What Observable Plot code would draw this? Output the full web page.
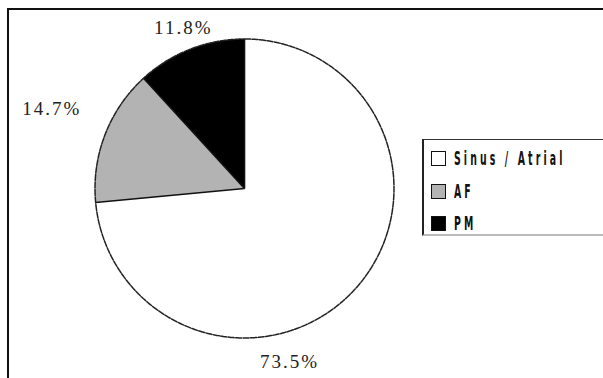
<!DOCTYPE html>
<html><head><meta charset="utf-8">
<script src="https://cdn.jsdelivr.net/npm/d3@7"></script>
<script src="https://cdn.jsdelivr.net/npm/@observablehq/plot@0.6"></script>
<style>
html,body{margin:0;padding:0;background:#fff;overflow:hidden;}
#wrap{position:relative;width:603px;height:378px;overflow:hidden;background:#fff;}
#frame{position:absolute;left:7px;top:8px;width:640px;height:420px;border:2px solid #111;box-sizing:border-box;}
#chart{position:absolute;left:0;top:0;}
#chart svg [aria-label="text"] text{letter-spacing:2px;}
#legend{position:absolute;left:422px;top:139px;width:220px;height:97px;border-left:2px solid #222;border-top:1.5px solid #333;border-bottom:2px solid #bbb;background:#fff;box-sizing:border-box;}
.row{position:absolute;left:7px;height:15px;}
.sw{position:absolute;left:0;top:0;width:13px;height:13px;border:1px solid #111;}
.tx{position:absolute;left:23px;top:-5px;white-space:nowrap;font-family:"DejaVu Sans Condensed","DejaVu Sans",sans-serif;font-stretch:condensed;font-weight:bold;font-size:20px;line-height:24px;letter-spacing:6px;color:#111;transform:scaleX(0.52);transform-origin:left center;}
</style>
</head><body>
<div id="wrap">
  <div id="chart"></div>
  <div id="frame"></div>
  <div id="legend"></div>
</div>
<script>
const categories = ["Sinus / Atrial", "AF", "PM"];
const percents = [73.5, 14.7, 11.8];
const labels = ["73.5%", "14.7%", "11.8%"];

const fills = ["#ffffff", "#b3b3b3", "#000000"];

const total = d3.sum(percents);
let acc = 0;
const slices = categories.map((c, i) => {
  const a0 = acc / total * 2 * Math.PI;
  acc += percents[i];
  const a1 = acc / total * 2 * Math.PI;
  return {cat: c, a0, a1, mid: (a0 + a1) / 2, label: labels[i]};
});
const arcPts = s => {
  const n = Math.max(2, Math.ceil((s.a1 - s.a0) / (Math.PI / 360)));
  const pts = [];
  for (let k = 0; k <= n; k++) {
    const a = s.a0 + (s.a1 - s.a0) * k / n;
    pts.push({cat: s.cat, x: Math.sin(a), y: Math.cos(a)});
  }
  return pts;
};
const slicePts = slices.flatMap(s => [{cat: s.cat, x: 0, y: 0}, ...arcPts(s)]);
const perimeter = slices.flatMap(arcPts);
const edges = slices.map(s => ({x1: 0, y1: 0, x2: Math.sin(s.a0), y2: Math.cos(s.a0)}));
const R = 1.13;
const lab = slices.map(s => ({cat: s.cat, label: s.label, x: R * Math.sin(s.mid), y: R * Math.cos(s.mid)}));
const offsets = {"Sinus / Atrial": [-80, 60], "AF": [-35, -19], "PM": [0, -3.5]};

const marks = [];
categories.forEach((c, i) => {
  marks.push(Plot.line(slicePts.filter(d => d.cat === c), {x: "x", y: "y", fill: fills[i], stroke: "none", curve: "linear-closed"}));
});
marks.push(Plot.link(edges, {x1: "x1", y1: "y1", x2: "x2", y2: "y2", stroke: "#111", strokeWidth: 1.6}));
marks.push(Plot.line(perimeter, {x: "x", y: "y", stroke: "#222", strokeWidth: 1.5, strokeDasharray: "6,1.5"}));
lab.forEach(d => {
  const [dx, dy] = offsets[d.cat];
  marks.push(Plot.text([d], {x: "x", y: "y", text: "label", dx, dy, fontFamily: "Liberation Serif, Times New Roman, serif", fontSize: 19, fill: "#222"}));
});

const chart = Plot.plot({
  width: 603, height: 378,
  marginLeft: 94.5, marginRight: 209.5, marginTop: 38.5, marginBottom: 40.5,
  x: {domain: [-1, 1], axis: null},
  y: {domain: [-1, 1], axis: null},
  style: {background: "transparent", overflow: "visible"},
  marks
});
document.getElementById("chart").appendChild(chart);

const legend = document.getElementById("legend");
const rowTops = [11, 44, 76];
categories.forEach((c, i) => {
  const row = document.createElement("div");
  row.className = "row";
  row.style.top = rowTops[i] + "px";
  const sw = document.createElement("div");
  sw.className = "sw";
  sw.style.background = fills[i];
  const tx = document.createElement("span");
  tx.className = "tx";
  tx.textContent = c;
  row.appendChild(sw); row.appendChild(tx);
  legend.appendChild(row);
});
</script>
</body></html>
